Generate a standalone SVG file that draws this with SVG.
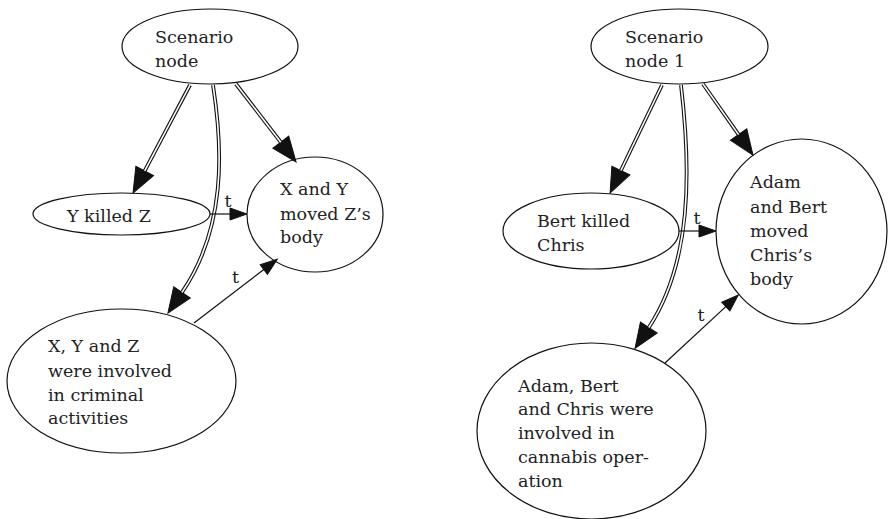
<svg xmlns="http://www.w3.org/2000/svg" width="888" height="519" viewBox="0 0 888 519">
<defs>
<marker id="big" markerUnits="userSpaceOnUse" markerWidth="26" markerHeight="22" refX="0" refY="10" orient="auto" viewBox="0 0 26 22" overflow="visible">
<path d="M0,0 L25,10 L0,20 z" fill="#111" stroke="#111" stroke-width="1"/>
</marker>
<marker id="small" markerUnits="userSpaceOnUse" markerWidth="18" markerHeight="14" refX="0" refY="6" orient="auto" viewBox="0 0 18 14" overflow="visible">
<path d="M0,0 L17,6 L0,12 z" fill="#111" stroke="#111" stroke-width="1"/>
</marker>
</defs>
<style>
.node ellipse{fill:none;stroke:#111;stroke-width:1.2}
text{font-family:"DejaVu Serif","Liberation Serif",serif;font-size:17.5px;fill:#222}
.lbl{text-anchor:middle}
.dbl{fill:none;stroke:#111;stroke-width:3.8}
.dblw{fill:none;stroke:#fff;stroke-width:1.6}
.sgl{fill:none;stroke:#111;stroke-width:1.2}
</style>
<rect width="888" height="519" fill="#fff"/>
<g id="connectors">
<path class="dbl" d="M190,85 L144.7,170.9" marker-end="url(#big)"/>
<path class="dblw" d="M190,85 L144.7,170.9"/>
<path class="dbl" d="M236,84 L280.8,142.2" marker-end="url(#big)"/>
<path class="dblw" d="M236,84 L280.8,142.2"/>
<path class="dbl" d="M213,85 C223,150 226,228 182,292.4" marker-end="url(#big)"/>
<path class="dblw" d="M213,85 C223,150 226,228 182,292.4"/>
<path class="sgl" d="M210,214 L230,214" marker-end="url(#small)"/>
<text class="lbl" x="228" y="207">t</text>
<path class="sgl" d="M194,323 L263.8,269.6" marker-end="url(#small)"/>
<text class="lbl" x="235.5" y="283">t</text>

<path class="dbl" d="M662,85 L620.9,170.5" marker-end="url(#big)"/>
<path class="dblw" d="M662,85 L620.9,170.5"/>
<path class="dbl" d="M703,84 L738.6,134.6" marker-end="url(#big)"/>
<path class="dblw" d="M703,84 L738.6,134.6"/>
<path class="dbl" d="M681,85 C691,170 692,262 648.8,327.5" marker-end="url(#big)"/>
<path class="dblw" d="M681,85 C691,170 692,262 648.8,327.5"/>
<path class="sgl" d="M679,231 L699,231" marker-end="url(#small)"/>
<text class="lbl" x="697" y="224">t</text>
<path class="sgl" d="M665,363 L725.8,306.6" marker-end="url(#small)"/>
<text class="lbl" x="701" y="321">t</text>
</g>
<g id="scenario" class="node">
<ellipse cx="210" cy="46.5" rx="88" ry="37.5"/>
<text x="155" y="43">Scenario</text>
<text x="155" y="67">node</text>
</g>
<g id="ykilledz" class="node">
<ellipse cx="121.5" cy="214" rx="88.5" ry="21"/>
<text x="67" y="222">Y killed Z</text>
</g>
<g id="xymoved" class="node">
<ellipse cx="315" cy="214.5" rx="68" ry="57.5"/>
<text x="280" y="195">X and Y</text>
<text x="280" y="220">moved Z’s</text>
<text x="280" y="243">body</text>
</g>
<g id="xyzcriminal" class="node">
<ellipse cx="121.5" cy="381" rx="114.5" ry="72"/>
<text x="48" y="352">X, Y and Z</text>
<text x="48" y="377">were involved</text>
<text x="48" y="401">in criminal</text>
<text x="48" y="424">activities</text>
</g>
<g id="scenario1" class="node">
<ellipse cx="679.5" cy="46.5" rx="88.5" ry="37.5"/>
<text x="625" y="43">Scenario</text>
<text x="625" y="67">node 1</text>
</g>
<g id="bertkilled" class="node">
<ellipse cx="591" cy="231" rx="88" ry="38"/>
<text x="537" y="227">Bert killed</text>
<text x="537" y="251">Chris</text>
</g>
<g id="adambertmoved" class="node">
<ellipse cx="801.5" cy="231.5" rx="85.5" ry="92.5"/>
<text x="750" y="188">Adam</text>
<text x="750" y="213">and Bert</text>
<text x="750" y="237">moved</text>
<text x="750" y="261">Chris’s</text>
<text x="750" y="285">body</text>
</g>
<g id="cannabis" class="node">
<ellipse cx="591.5" cy="431" rx="114.5" ry="88"/>
<text x="518" y="392">Adam, Bert</text>
<text x="518" y="415">and Chris were</text>
<text x="518" y="439">involved in</text>
<text x="518" y="463">cannabis oper-</text>
<text x="518" y="487">ation</text>
</g>
</svg>
